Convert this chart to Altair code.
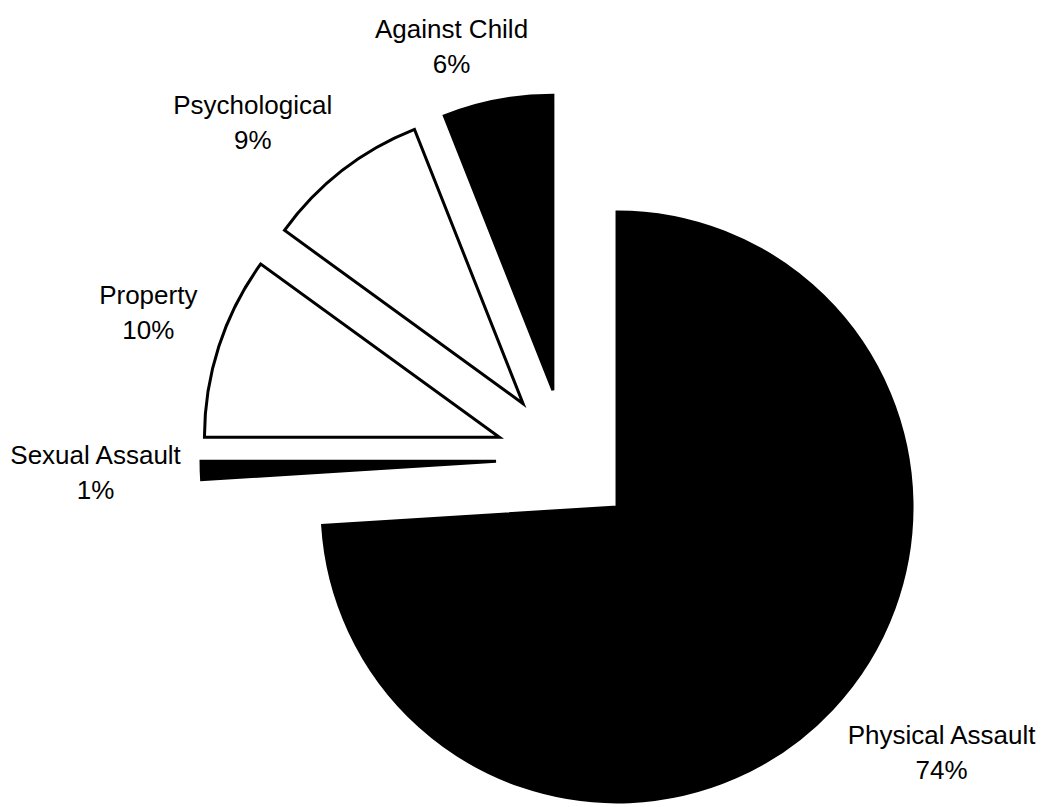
import altair as alt
import pandas as pd

# Share of reported incidents by type (percent), in clockwise order from 12 o'clock
categories = ["Physical Assault", "Sexual Assault", "Property", "Psychological", "Against Child"]
shares = [74, 1, 10, 9, 6]
fills = ["black", "black", "white", "white", "black"]

df = pd.DataFrame({"category": categories, "share": shares, "order": list(range(len(categories)))})

W, H = 1043, 807
CX, CY = 566, 459      # pie centre before explosion
EXPLODE = 70           # distance each slice is pulled out along its bisector
R = 295                # slice radius
LABEL_R = R + 27       # radius of each label's anchor point, from its slice's centre
FONT = 26
LINE_H = 35

base = alt.Chart(df).transform_joinaggregate(
    total="sum(share)"
).transform_window(
    cum="sum(share)", sort=[alt.SortField("order")], frame=[None, 0]
).transform_calculate(
    mid="2*PI*(datum.cum - datum.share/2)/datum.total",
).transform_calculate(
    sx=f"{CX} + {EXPLODE}*sin(datum.mid)",
    sy=f"{CY} - {EXPLODE}*cos(datum.mid)",
    # rough half-extent of the two-line label block
    hw=f"0.9*0.24*{FONT}*length(datum.category)",
    hh=f"{LINE_H}*0.75",
).transform_calculate(
    # anchor on the bisector, then push the label block away from the pie
    lx=f"datum.sx + {LABEL_R}*sin(datum.mid) + datum.hw*clamp(3*sin(datum.mid), -1, 1)",
    ly=f"datum.sy - {LABEL_R}*cos(datum.mid) - datum.hh*clamp(3*cos(datum.mid), -1, 1)",
    label="datum.category + '\\n' + datum.share + '%'",
)

slices = base.mark_arc(
    radius=R, stroke="black", strokeWidth=3, strokeJoin="miter"
).encode(
    theta=alt.Theta("share:Q", stack=True),
    order=alt.Order("order:Q"),
    x=alt.X("sx:Q", scale=None),
    y=alt.Y("sy:Q", scale=None),
    color=alt.Color("category:N", scale=alt.Scale(domain=categories, range=fills), legend=None),
)

labels = base.mark_text(
    font="Liberation Sans", fontSize=FONT, lineHeight=LINE_H, lineBreak="\n",
    align="center", baseline="middle", dy=-LINE_H / 2, color="black",
).encode(
    x=alt.X("lx:Q", scale=None),
    y=alt.Y("ly:Q", scale=None),
    text="label:N",
)

chart = alt.layer(slices, labels).properties(
    width=W, height=H, padding=0, autosize=alt.AutoSizeParams(type="none"),
    background="white",
).configure_view(stroke=None)

chart.save("out.html", embed_options={"renderer": "svg", "actions": False})
